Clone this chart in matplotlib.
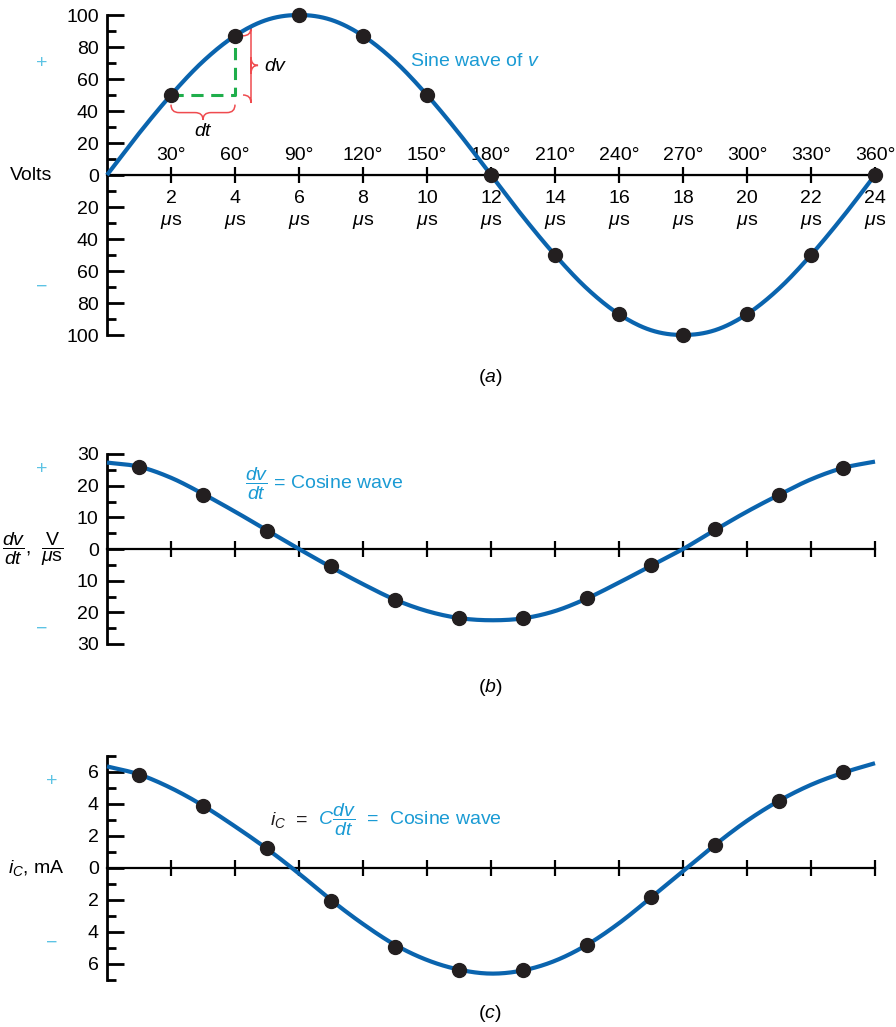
import numpy as np
import matplotlib
matplotlib.use("Agg")
import matplotlib.pyplot as plt
from matplotlib.ticker import MultipleLocator, FuncFormatter
from matplotlib.path import Path
from matplotlib.patches import PathPatch
from matplotlib.transforms import blended_transform_factory

plt.rcParams['font.family'] = ['Liberation Sans', 'DejaVu Sans']
plt.rcParams['mathtext.fontset'] = 'custom'
plt.rcParams['mathtext.rm'] = 'Liberation Sans'
plt.rcParams['mathtext.it'] = 'Liberation Sans:italic'
plt.rcParams['mathtext.bf'] = 'Liberation Sans:bold'

# time axis (microseconds) and degree labels
t_ticks = [2, 4, 6, 8, 10, 12, 14, 16, 18, 20, 22, 24]
degree_labels = ['30°', '60°', '90°', '120°', '150°', '180°',
                 '210°', '240°', '270°', '300°', '330°', '360°']
t_curve = list(range(25))
t_mid = [1, 3, 5, 7, 9, 11, 13, 15, 17, 19, 21, 23]

# (a) sine wave of v, volts
v_dots = [50, 87, 100, 87, 50, 0, -50, -87, -100, -87, -50, 0]
v_curve = [0, 26, 50, 71, 87, 97, 100, 97, 87, 71, 50, 26, 0,
           -26, -50, -71, -87, -97, -100, -97, -87, -71, -50, -26, 0]

# (b) dv/dt, V/us
dvdt_dots = [26.0, 17.0, 5.8, -5.5, -16.1, -21.9, -21.9, -15.5, -5.2, 6.2, 17.0, 25.6]
dvdt_curve = [27.3, 26.0, 22.5, 17.4, 11.8, 5.9, 0, -5.7, -11.1, -16.0, -19.6, -21.8, -22.5,
              -21.9, -19.6, -15.6, -10.6, -5.3, 0, 6.0, 11.8, 17.1, 22.0, 25.6, 27.6]

# (c) i_C, mA
ic_dots = [5.83, 3.9, 1.22, -2.07, -4.92, -6.39, -6.39, -4.8, -1.8, 1.45, 4.17, 6.02]
ic_curve = [6.35, 5.85, 5.0, 3.9, 2.6, 1.2, -0.35, -2.0, -3.5, -4.8, -5.75, -6.35, -6.6,
            -6.4, -5.8, -4.8, -3.45, -1.85, -0.2, 1.45, 2.95, 4.2, 5.2, 5.95, 6.55]

BLUE = '#0a64ae'
CYAN = '#1b9bd4'
SIGN = '#5cc3e4'
DOT = '#231f20'
FS = 14


def smooth(x, y, n=16):
    # catmull-rom through the read points, just for drawing
    px = [2 * x[0] - x[1]] + list(x) + [2 * x[-1] - x[-2]]
    py = [2 * y[0] - y[1]] + list(y) + [2 * y[-1] - y[-2]]
    s = np.linspace(0, 1, n, endpoint=False)
    xs, ys = [], []
    for i in range(1, len(px) - 2):
        for arr, out in ((px, xs), (py, ys)):
            p0, p1, p2, p3 = arr[i - 1:i + 3]
            out.extend(0.5 * (2 * p1 + (-p0 + p2) * s
                              + (2 * p0 - 5 * p1 + 4 * p2 - p3) * s ** 2
                              + (-p0 + 3 * p1 - 3 * p2 + p3) * s ** 3))
    xs.append(x[-1])
    ys.append(y[-1])
    return np.array(xs), np.array(ys)


def setup(ax, lim, major, minor):
    ax.set_xlim(0, 24)
    ax.set_ylim(-lim, lim)
    ax.patch.set_visible(False)
    for s in ('top', 'right'):
        ax.spines[s].set_visible(False)
    ax.spines['bottom'].set_position(('data', 0))
    ax.spines['left'].set_linewidth(2.0)
    ax.spines['bottom'].set_linewidth(1.6)
    ax.set_xticks(t_ticks)
    ax.tick_params(axis='x', direction='inout', length=12, width=1.6, pad=5, labelsize=FS)
    ax.yaxis.set_major_locator(MultipleLocator(major))
    ax.yaxis.set_minor_locator(MultipleLocator(minor))
    ax.yaxis.set_major_formatter(FuncFormatter(lambda v, p: f'{abs(v):g}'))
    ax.tick_params(axis='y', which='major', direction='in', length=12, width=2, pad=6, labelsize=FS)
    ax.tick_params(axis='y', which='minor', direction='in', length=6.5, width=2)


def wave(ax, curve, tdots, dots):
    xs, ys = smooth(t_curve, curve)
    ax.plot(xs, ys, color=BLUE, lw=3, clip_on=False, zorder=3, solid_capstyle='butt')
    ax.plot(tdots, dots, 'o', color=DOT, ms=10, clip_on=False, zorder=5)


def brace(ax, a, b, end, bar, tip, r, vertical=False):
    m = (a + b) / 2
    pts = [(a, end), (a, bar), (a + r, bar), (m - r, bar), (m, bar), (m, tip),
           (m, bar), (m + r, bar), (b - r, bar), (b, bar), (b, end)]
    codes = [Path.MOVETO, Path.CURVE3, Path.CURVE3, Path.LINETO, Path.CURVE3, Path.CURVE3,
             Path.CURVE3, Path.CURVE3, Path.LINETO, Path.CURVE3, Path.CURVE3]
    if vertical:
        pts = [(q, p) for p, q in pts]
    ax.add_patch(PathPatch(Path(pts, codes), fill=False, ec='#ef4b4f', lw=1.1, clip_on=False))


fig = plt.figure(figsize=(8.96, 10.27), dpi=100)
W, H = 896, 1027

# ---- (a)
ax = fig.add_axes([107 / W, 1 - 335 / H, 768 / W, 320 / H])
setup(ax, 100, 20, 10)
ax.set_xticklabels([f'{t}\n$\\mu$s' for t in t_ticks])
for lab in ax.get_xticklabels():
    lab.set_linespacing(1.4)
sec = ax.secondary_xaxis(0.5)
sec.set_xticks(t_ticks)
sec.set_xticklabels(degree_labels)
sec.tick_params(length=0, pad=8, labelsize=FS)
wave(ax, v_curve, t_ticks, v_dots)
ax.plot([t_ticks[0], t_ticks[1], t_ticks[1]], [v_dots[0], v_dots[0], v_dots[1]],
        color='#1fae4b', lw=2.2, dashes=(4, 2.5), zorder=4)
brace(ax, t_ticks[0], t_ticks[1], v_dots[0] - 6, v_dots[0] - 11, v_dots[0] - 15.5, 0.25)
brace(ax, v_dots[1], v_dots[0], t_ticks[1] + 0.25, t_ticks[1] + 0.5, t_ticks[1] + 0.72, 5,
      vertical=True)
ax.text(4.92, 68, '$dv$', fontsize=FS, va='center', ha='left')
ax.text(3.0, 27, '$dt$', fontsize=FS, va='center', ha='center')
ax.text(9.47, 71, 'Sine wave of $v$', fontsize=FS, color=CYAN, va='center')
ax.text(-1.72, 0, 'Volts', fontsize=FS, va='center', ha='right', clip_on=False)
ax.text(-2.03, 70, '+', fontsize=FS, color=SIGN, va='center', ha='center')
ax.text(-2.03, -70, '−', fontsize=FS, color=SIGN, va='center', ha='center')
fig.text(490 / W, 1 - 378 / H, '($a$)', fontsize=FS, ha='center', va='center')

# ---- (b)
ax = fig.add_axes([107 / W, 1 - 644 / H, 768 / W, 190 / H])
setup(ax, 30, 10, 5)
ax.tick_params(axis='x', labelbottom=False)
wave(ax, dvdt_curve, t_mid, dvdt_dots)
ax.text(4.3, 20.5, r'$\dfrac{dv}{dt}$ = Cosine wave', fontsize=FS, color=CYAN, va='center')
ax.text(2 / W, 0, r'$\dfrac{dv}{dt}$,  $\dfrac{\mathrm{V}}{\mu\mathrm{s}}$', fontsize=FS,
        va='center', ha='left', transform=blended_transform_factory(fig.transFigure, ax.transData))
ax.text(-2.03, 25, '+', fontsize=FS, color=SIGN, va='center', ha='center')
ax.text(-2.03, -25.4, '−', fontsize=FS, color=SIGN, va='center', ha='center')
fig.text(490 / W, 1 - 688 / H, '($b$)', fontsize=FS, ha='center', va='center')

# ---- (c)
ax = fig.add_axes([107 / W, 1 - 980 / H, 768 / W, 224 / H])
setup(ax, 7, 2, 1)
ax.tick_params(axis='x', labelbottom=False)
wave(ax, ic_curve, t_mid, ic_dots)
t1 = ax.text(5.1, 3.0, '$i_C$  =', fontsize=FS, color=DOT, va='center')
ax.annotate(r'  $C\dfrac{dv}{dt}$  =  Cosine wave', xy=(1, 0.5), xycoords=t1,
            fontsize=FS, color=CYAN, va='center')
ax.text(-1.31, 0, '$i_C$, mA', fontsize=FS, va='center', ha='right')
ax.text(-1.72, 5.4, '+', fontsize=FS, color=SIGN, va='center', ha='center')
ax.text(-1.72, -4.7, '−', fontsize=FS, color=SIGN, va='center', ha='center')
fig.text(490 / W, 1 - 1013 / H, '($c$)', fontsize=FS, ha='center', va='center')

fig.savefig('out.png', dpi=100)
